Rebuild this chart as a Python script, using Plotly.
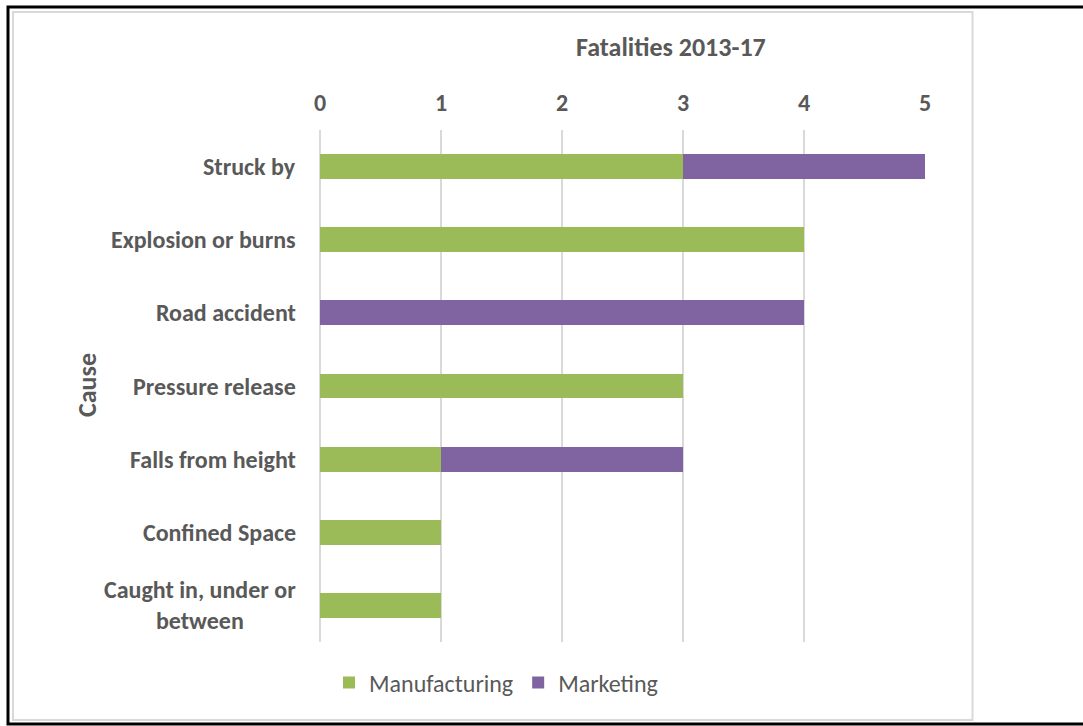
import plotly.graph_objects as go

# Fatalities 2013-17 by cause, split by business area
causes = [
    "Struck by",
    "Explosion or burns",
    "Road accident",
    "Pressure release",
    "Falls from height",
    "Confined Space",
    "Caught in, under or<br>between",
]
manufacturing = [3, 4, 0, 3, 1, 1, 1]
marketing = [2, 0, 4, 0, 2, 0, 0]
x_ticks = [0, 1, 2, 3, 4, 5]

GREEN = "#9BBB59"
PURPLE = "#8064A2"
GRID = "#D9D9D9"
TEXT = "#595959"
FONT = "Carlito, Calibri, Lato, sans-serif"

W, H = 1083, 726
ML, MR, MT, MB = 320, 158, 130, 84
PW, PH = W - ML - MR, H - MT - MB


def px_x(p):
    return (p - ML) / PW


def px_y(p):
    return (H - MB - p) / PH


fig = go.Figure()
fig.add_trace(go.Bar(
    y=causes, x=manufacturing, name="Manufacturing", orientation="h",
    marker=dict(color=GREEN, line=dict(width=0)),
))
fig.add_trace(go.Bar(
    y=causes, x=marketing, name="Marketing", orientation="h",
    marker=dict(color=PURPLE, line=dict(width=0)),
))

# category labels, centred when wrapped
annotations = [
    dict(
        text=f"<b>{c}</b>", xref="paper", yref="y", x=px_x(298), y=c,
        xanchor="right", yanchor="middle", align="center", showarrow=False,
        font=dict(family=FONT, size=24, color=TEXT),
    )
    for c in causes
]
annotations.append(dict(
    text="<b>Fatalities 2013-17</b>", xref="paper", yref="paper",
    x=px_x(671), y=px_y(47), xanchor="center", yanchor="middle",
    showarrow=False, font=dict(family=FONT, size=26, color=TEXT),
))
annotations.append(dict(
    text="<b>Cause</b>", xref="paper", yref="paper",
    x=px_x(87), y=px_y(385), xanchor="center", yanchor="middle",
    textangle=-90, showarrow=False,
    font=dict(family=FONT, size=26, color=TEXT),
))

shapes = [
    # chart area outline
    dict(type="rect", xref="paper", yref="paper",
         x0=px_x(13), x1=px_x(972.5), y0=px_y(720), y1=px_y(12),
         line=dict(color=GRID, width=2), layer="below"),
    # outer frame
    dict(type="rect", xref="paper", yref="paper",
         x0=px_x(8), x1=px_x(1100), y0=px_y(724), y1=px_y(7),
         line=dict(color="black", width=3), layer="below"),
]

fig.update_layout(
    width=W, height=H,
    margin=dict(l=ML, r=MR, t=MT, b=MB, autoexpand=False),
    paper_bgcolor="white", plot_bgcolor="white",
    barmode="stack", bargap=0.66,
    font=dict(family=FONT, color=TEXT),
    xaxis=dict(
        side="top", range=[0, 5], tickvals=x_ticks,
        ticktext=[f"<b>{v}</b>" for v in x_ticks],
        showgrid=True, gridcolor=GRID, gridwidth=1.5,
        zeroline=True, zerolinecolor=GRID, zerolinewidth=1.5,
        showline=False, ticks="", ticklabelstandoff=13,
        tickfont=dict(family=FONT, size=24, color=TEXT),
    ),
    yaxis=dict(
        categoryorder="array", categoryarray=causes, autorange="reversed",
        showticklabels=False, showgrid=False, zeroline=False, showline=False,
    ),
    legend=dict(
        orientation="h", x=px_x(329), y=px_y(683), xanchor="left",
        yanchor="middle", font=dict(family=FONT, size=24, color=TEXT),
        itemwidth=30, traceorder="normal",
    ),
    annotations=annotations,
    shapes=shapes,
)

fig.write_html("out.html")
